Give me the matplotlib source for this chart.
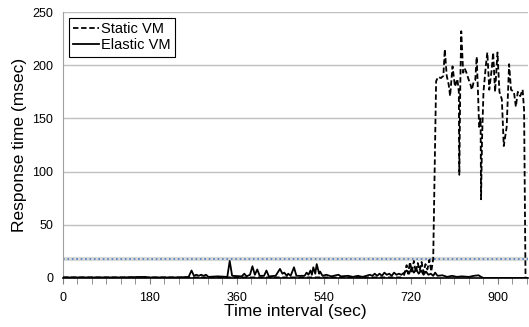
import matplotlib.pyplot as plt
import numpy as np

plt.rcParams['font.family'] = ['Liberation Sans', 'DejaVu Sans']

# Elastic VM response time (sec, msec)
elastic_t = [0, 60, 120, 170, 175, 240, 260, 266, 271, 276, 281, 286, 291, 296, 301, 320,
             340, 345, 350, 370, 375, 380, 387, 392, 397, 402, 407, 416, 421, 426, 440, 449,
             454, 458, 463, 466, 471, 478, 483, 500, 504, 508, 512, 515, 518, 522, 525, 530,
             532, 537, 545, 555, 570, 575, 590, 600, 610, 620, 635, 640, 645, 650, 655, 660,
             665, 670, 675, 680, 685, 690, 695, 700, 706, 711, 716, 721, 726, 731, 736, 741,
             746, 751, 756, 761, 766, 770, 775, 785, 795, 805, 815, 825, 840, 850, 860, 865,
             870, 960]
elastic_v = [0.5, 0.5, 0.5, 1, 0.5, 0.5, 1, 7, 2, 3, 2, 3, 2, 3, 1, 1.5,
             1, 16, 2, 1.5, 4, 1.5, 3, 11, 3, 8, 2, 2, 7, 1.5, 2, 8.5,
             4, 5, 2, 4, 2, 10, 2, 2, 5, 3, 7, 3, 10, 4, 13, 4,
             6, 2, 3, 1.5, 3, 1.5, 2, 1, 2, 1, 3, 2, 4, 2, 4, 2,
             5, 3, 4, 2, 5, 3, 4, 3, 5, 7, 4, 9, 5, 8, 4, 7,
             3, 6, 3, 4, 2, 5, 2, 2.5, 1, 2, 1, 1.5, 1, 2, 2.5, 1,
             0, 0]

# Static VM response time (sec, msec)
static_t = [0, 700, 706, 711, 714, 718, 722, 726, 730, 734, 738, 742, 746, 750, 754, 758,
            762, 766, 772, 776, 782, 787, 790, 794, 798, 801, 806, 811, 816, 819, 820, 822,
            824, 828, 831, 834, 839, 843, 846, 850, 853, 856, 859, 861, 864, 865, 867, 870,
            875, 878, 882, 887, 890, 894, 899, 903, 908, 912, 918, 923, 927, 933, 937, 941,
            946, 951, 954, 957, 962]
static_v = [0.5, 0.5, 3, 12, 4, 15, 6, 16, 5, 14, 7, 15, 5, 13, 8, 17,
            6, 18, 185, 189, 188, 190, 215, 190, 182, 171, 199, 180, 187, 175, 97, 180,
            232, 193, 197, 194, 187, 182, 177, 185, 186, 208, 170, 142, 150, 74, 130, 175,
            200, 212, 177, 196, 212, 175, 212, 175, 168, 124, 142, 201, 177, 175, 161, 175,
            171, 177, 158, 0, 0]

threshold = 18
x_major = [0, 180, 360, 540, 720, 900]

fig = plt.figure(figsize=(5.29, 3.27), dpi=100)
ax = fig.add_axes([0.119, 0.150, 0.879, 0.813])

ax.axhline(threshold, color='#d9d9d9', lw=3, zorder=1)
ax.axhline(threshold, color='#4a7ebb', ls=':', lw=1.2, zorder=2)

ax.plot(static_t, static_v, color='black', lw=1.3, ls=(0, (3, 1.5)), label='Static VM', zorder=4)
ax.plot(elastic_t, elastic_v, color='black', lw=1.3, label='Elastic VM', zorder=3)

ax.set_xlim(0, 962)
ax.set_ylim(0, 250)
ax.set_yticks(range(0, 251, 50))
ax.set_xticks(x_major)
ax.set_xticks(np.arange(0, 962, 30), minor=True)
ax.grid(axis='y', color='#c0c0c0', lw=1)
ax.set_axisbelow(True)

ax.tick_params(axis='y', length=0, pad=7, labelsize=9)
ax.tick_params(axis='x', which='both', length=4, color='#808080', direction='out', pad=6, labelsize=9)

for s in ['top', 'right']:
    ax.spines[s].set_visible(False)
ax.spines['left'].set_color('#a0a0a0')
ax.spines['bottom'].set_color('black')
ax.spines['bottom'].set_linewidth(1.2)

ax.set_xlabel('Time interval (sec)', fontsize=12.5, labelpad=0)
ax.set_ylabel('Response time (msec)', fontsize=12.5, labelpad=4)

leg = ax.legend(loc='upper left', bbox_to_anchor=(0.0, 1.0), fontsize=10.5, fancybox=False,
                edgecolor='black', framealpha=1, handlelength=1.8, handletextpad=0.1,
                borderpad=0.3, labelspacing=0.15, borderaxespad=0.4)
leg.get_frame().set_linewidth(0.8)

fig.savefig('out.png', dpi=100)
